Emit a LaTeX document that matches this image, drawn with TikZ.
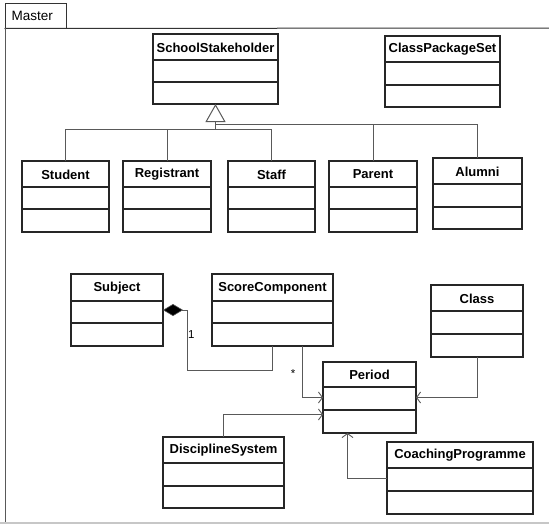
\documentclass[tikz,border=0pt]{standalone}
\usepackage{fontspec}
\setmainfont{Liberation Sans}
\usetikzlibrary{arrows.meta,calc}

% Draws one UML class box: #1 node name, #2 title, #3 left, #4 top,
% #5 right, #6 bottom of title row, #7 attribute/operation divider, #8 bottom
\newcommand{\umlclass}[8]{%
  \node[classbox, minimum width={(#5-#3)*1pt}, minimum height={(#8-#4)*1pt}]
    (#1) at ({(#3+#5)/2},{(#4+#8)/2}) {};
  \node[classtitle] (#1-title) at ({(#3+#5)/2},{(#4+#6)/2+0.5}) {#2};
  \draw[classbox] (#3,#6) -- (#5,#6);
  \draw[classbox] (#3,#7) -- (#5,#7);
}

\begin{document}
\begin{tikzpicture}[x=1pt,y=-1pt,
  classbox/.style={draw=black!85, line width=1.2pt, inner sep=0pt, outer sep=0pt, fill=none},
  classtitle/.style={font=\fontsize{13}{15}\selectfont\bfseries, inner sep=0pt},
  conn/.style={draw=black!65, line width=0.9pt},
  assoc/.style={conn, -{Straight Barb[length=4pt,width=11pt,line width=0.9pt]}},
  general/.style={conn, -{Triangle[open,length=18pt,width=20pt,line width=1pt,fill=white]}},
  compose/.style={conn, -{Diamond[length=20pt,width=12pt,fill=black,line width=0.6pt]}},
  mult/.style={font=\fontsize{11.5}{13}\selectfont, inner sep=0pt}
]
\useasboundingbox (0,0) rectangle (549,530);

% package frame with its name tab
\node[draw=black!80, line width=1pt, minimum width=61pt, minimum height=25pt, inner sep=0pt] (tab) at (35.5,15.5) {};
\node[font=\fontsize{13.5}{15}\selectfont, anchor=west, inner sep=0pt] (tabname) at (11.5,16) {Master};
\draw[draw=black!80, line width=1pt] (tab.south west) -- (549,28);
\draw[draw=black!65, line width=1.5pt] (5.5,28) -- (5.5,523);
\draw[draw=black!22, line width=1.2pt] (0,523) -- (549,523);

% classes
\umlclass{ss}{SchoolStakeholder}{153}{34}{278}{60}{82}{104}
\umlclass{cps}{ClassPackageSet}{385}{36}{500}{62}{85}{107}
\umlclass{stu}{Student}{22}{161}{109}{187}{209}{232}
\umlclass{reg}{Registrant}{123}{161}{211}{187}{209}{232}
\umlclass{staff}{Staff}{228}{161}{315}{187}{209}{232}
\umlclass{par}{Parent}{329}{161}{417}{187}{209}{232}
\umlclass{alu}{Alumni}{433}{158}{522}{184}{207}{229}
\umlclass{subj}{Subject}{71}{274}{163}{301}{323}{346}
\umlclass{sc}{ScoreComponent}{212}{274}{333}{301}{323}{346}
\umlclass{cls}{Class}{431}{285}{523}{311}{334}{357}
\umlclass{per}{Period}{323}{362}{416}{387}{410}{433}
\umlclass{ds}{DisciplineSystem}{163}{437}{284}{463}{486}{508}
\umlclass{cp}{CoachingProgramme}{387}{442}{533}{468}{491}{514}

% generalisation tree
\coordinate (joinA) at (ss.south |- 0,129);
\coordinate (joinB) at (ss.south |- 0,124);
\draw[conn] (stu.north) |- (joinA);
\draw[conn] (reg.north) |- (joinA);
\draw[conn] (staff.north) |- (joinA);
\draw[conn] (par.north) |- (joinB);
\draw[conn] (alu.north) |- (joinB);
\draw[general] (joinA) -- (ss.south);

% composition ScoreComponent -> Subject
\coordinate (bend) at (187,370);
\draw[compose] (sc.south) |- (bend) |- (subj.east);
\node[mult, anchor=west] (one) at (188,335) {1};

% associations into Period
\draw[assoc] ($(sc.south)+(30,0)$) |- (per.west);
\node[mult] (many) at (293,374) {*};
\draw[assoc] (cls.south) |- (per.east);
\draw[assoc] (ds.north) |- ($(per.west)+(0,17)$);
\draw[assoc] (cp.west) -| ($(per.south)+(-22,0)$);
\end{tikzpicture}
\end{document}
